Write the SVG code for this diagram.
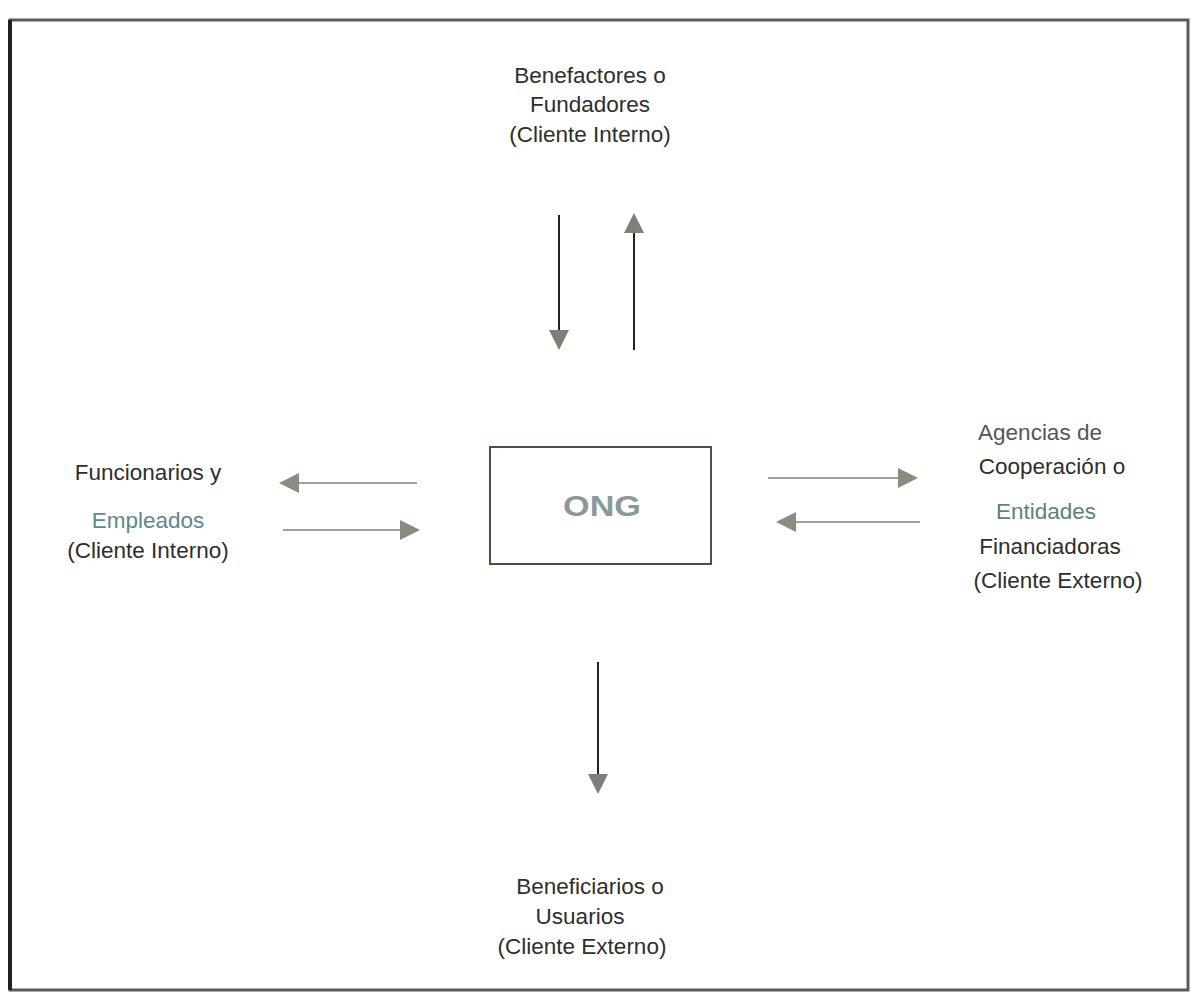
<svg xmlns="http://www.w3.org/2000/svg" width="1194" height="1001" viewBox="0 0 1194 1001">
<style>
.t{font-family:"Liberation Sans",Arial,sans-serif;font-size:22.5px;fill:#2e2e2e;text-anchor:middle}
.v{stroke:#222;stroke-width:2;fill:none}
.h{stroke:#a0a0a0;stroke-width:2;fill:none}
</style>
<defs>
<marker id="ah" viewBox="0 0 10 10" refX="9" refY="5" markerWidth="20" markerHeight="20" markerUnits="userSpaceOnUse" orient="auto">
<path d="M0,0 L10,5 L0,10 Z" fill="#8a8c80"/>
</marker>
<marker id="ahv" viewBox="0 0 10 10" refX="9" refY="5" markerWidth="20" markerHeight="20" markerUnits="userSpaceOnUse" orient="auto">
<path d="M0,0 L10,5 L0,10 Z" fill="#7d8078"/>
</marker>
</defs>
<rect width="1194" height="1001" fill="#ffffff"/>
<g id="frame">
<path d="M10,20 H1188 V990 H10 Z" fill="none" stroke="#5a5a5a" stroke-width="3"/>
<line x1="10" y1="20" x2="10" y2="990" stroke="#222" stroke-width="4"/>
</g>
<g id="benefactores">
<text class="t" x="590" y="83">Benefactores o</text>
<text class="t" x="590" y="112">Fundadores</text>
<text class="t" x="590" y="142">(Cliente Interno)</text>
</g>
<g id="ong">
<rect x="490" y="447" width="221" height="117" fill="none" stroke="#5a4a46" stroke-width="2"/>
<text x="602" y="516" font-family="'Liberation Sans',Arial,sans-serif" font-size="29" font-weight="bold" fill="#8a9a9c" text-anchor="middle" textLength="78" lengthAdjust="spacingAndGlyphs">ONG</text>
</g>
<g id="funcionarios">
<text class="t" x="148" y="480">Funcionarios y</text>
<text class="t" x="148" y="528" style="fill:#5d8890">Empleados</text>
<text class="t" x="148" y="558">(Cliente Interno)</text>
</g>
<g id="agencias">
<text class="t" x="1040" y="440" style="fill:#555">Agencias de</text>
<text class="t" x="1052" y="474">Cooperación o</text>
<text class="t" x="1046" y="519" style="fill:#5d7f85">Entidades</text>
<text class="t" x="1050" y="554">Financiadoras</text>
<text class="t" x="1058" y="588">(Cliente Externo)</text>
</g>
<g id="beneficiarios">
<text class="t" x="590" y="894">Beneficiarios o</text>
<text class="t" x="580" y="924">Usuarios</text>
<text class="t" x="582" y="954">(Cliente Externo)</text>
</g>
<g id="connectors">
<line class="v" x1="559" y1="215" x2="559" y2="348" marker-end="url(#ahv)"/>
<line class="v" x1="634" y1="350" x2="634" y2="215" marker-end="url(#ahv)"/>
<line class="h" x1="417" y1="483" x2="281" y2="483" marker-end="url(#ah)"/>
<line class="h" x1="283" y1="530" x2="418" y2="530" marker-end="url(#ah)"/>
<line class="h" x1="768" y1="478" x2="916" y2="478" marker-end="url(#ah)"/>
<line class="h" x1="920" y1="522" x2="778" y2="522" marker-end="url(#ah)"/>
<line class="v" x1="598" y1="662" x2="598" y2="792" marker-end="url(#ahv)"/>
</g>
</svg>
